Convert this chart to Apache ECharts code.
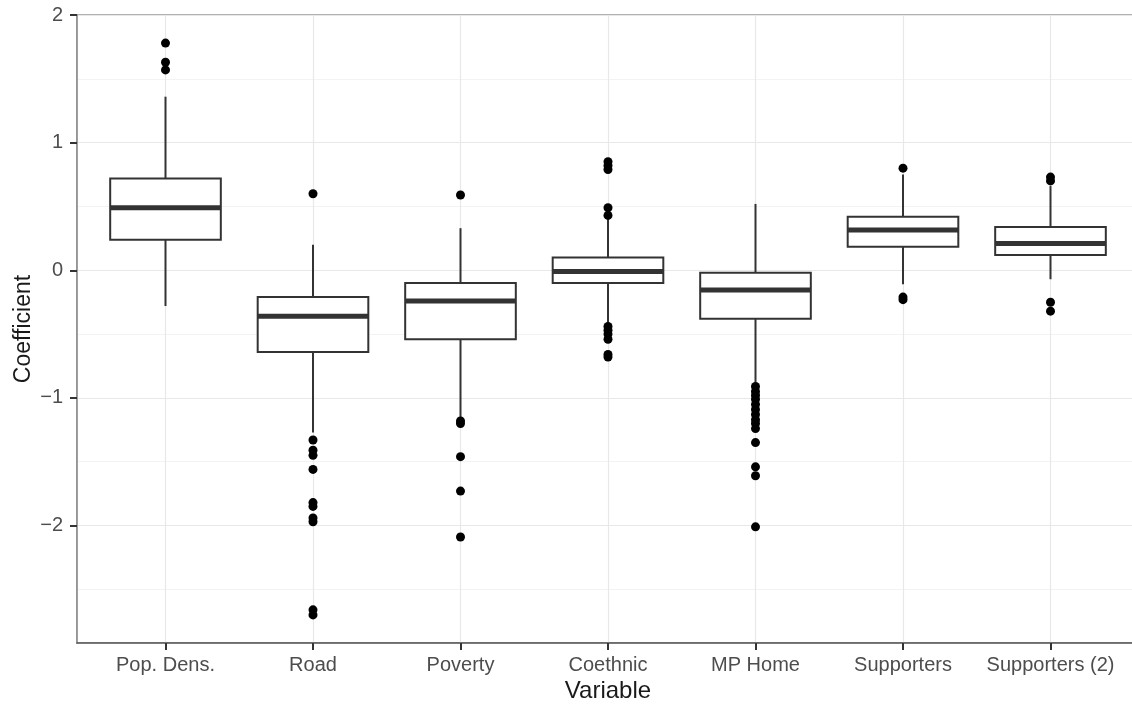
<!DOCTYPE html>
<html>
<head>
<meta charset="utf-8">
<script src="https://cdn.jsdelivr.net/npm/echarts@6/dist/echarts.min.js"></script>
<style>
html,body{margin:0;padding:0;background:#fff;}
#chart{width:1132px;height:705px;}
</style>
</head>
<body>
<div id="chart"></div>
<script>
// ---- data ----
const categories = ["Pop. Dens.", "Road", "Poverty", "Coethnic", "MP Home", "Supporters", "Supporters (2)"];
const whiskerLow  = [-0.28, -1.27, -1.15, -0.42, -0.88, -0.11, -0.07];
const q1          = [ 0.24, -0.64, -0.54, -0.10, -0.38,  0.185, 0.12];
const median      = [ 0.49, -0.36, -0.24, -0.01, -0.155, 0.315, 0.21];
const q3          = [ 0.72, -0.21, -0.10,  0.10, -0.02,  0.42,  0.34];
const whiskerHigh = [ 1.36,  0.20,  0.33,  0.40,  0.52,  0.75,  0.66];
const outPopDens    = [1.78, 1.63, 1.57];
const outRoad       = [0.60, -1.33, -1.41, -1.45, -1.56, -1.82, -1.85, -1.94, -1.97, -2.66, -2.70];
const outPoverty    = [0.59, -1.18, -1.20, -1.46, -1.73, -2.09];
const outCoethnic   = [0.85, 0.82, 0.79, 0.49, 0.43, -0.44, -0.47, -0.50, -0.54, -0.66, -0.68];
const outMPHome     = [-0.91, -0.95, -0.98, -1.01, -1.05, -1.09, -1.13, -1.17, -1.20, -1.24, -1.35, -1.54, -1.61, -2.01];
const outSupporters = [0.80, -0.21, -0.23];
const outSupporters2 = [0.73, 0.70, -0.25, -0.32];
const yTickLabels = ["−2", "−1", "0", "1", "2"];

const outliers = [outPopDens, outRoad, outPoverty, outCoethnic, outMPHome, outSupporters, outSupporters2];
const boxData = categories.map((c, i) => [i + 1, whiskerLow[i], q1[i], median[i], q3[i], whiskerHigh[i]]);
const pointData = [];
outliers.forEach((arr, i) => arr.forEach(v => pointData.push([i + 1, v])));

const lineCol = '#333333';

function renderBox(params, api) {
  const x = api.value(0);
  const pLo = api.coord([x, api.value(1)]);
  const pQ1 = api.coord([x, api.value(2)]);
  const pMed = api.coord([x, api.value(3)]);
  const pQ3 = api.coord([x, api.value(4)]);
  const pHi = api.coord([x, api.value(5)]);
  const w = api.size([0.75, 0])[0];
  const h = w / 2;
  return {
    type: 'group',
    children: [
      {type: 'line', shape: {x1: pHi[0], y1: pHi[1], x2: pQ3[0], y2: pQ3[1]}, style: {stroke: lineCol, lineWidth: 2}},
      {type: 'line', shape: {x1: pLo[0], y1: pLo[1], x2: pQ1[0], y2: pQ1[1]}, style: {stroke: lineCol, lineWidth: 2}},
      {type: 'rect', shape: {x: pQ3[0] - h, y: pQ3[1], width: w, height: pQ1[1] - pQ3[1]}, style: {fill: '#ffffff', stroke: lineCol, lineWidth: 2}},
      {type: 'line', shape: {x1: pMed[0] - h, y1: pMed[1], x2: pMed[0] + h, y2: pMed[1]}, style: {stroke: lineCol, lineWidth: 5}}
    ]
  };
}

const chart = echarts.init(document.getElementById('chart'), null, {renderer: 'canvas'});
chart.setOption({
  animation: false,
  backgroundColor: '#ffffff',
  grid: {left: 77, top: 15, width: 1062, bottom: 62, containLabel: false, outerBoundsMode: 'none',
         show: true, borderColor: '#999999', borderWidth: 1.5, backgroundColor: 'transparent'},
  xAxis: {
    type: 'value', min: 0.4, max: 7.6, splitNumber: 7,
    name: 'Variable', nameLocation: 'middle', nameGap: 36, nameMoveOverlap: false,
    nameTextStyle: {fontFamily: 'Liberation Sans', fontSize: 24, color: '#1a1a1a'},
    axisLine: {show: true, onZero: false, lineStyle: {color: '#555555', width: 1.5}},
    axisTick: {show: true, length: 7, lineStyle: {color: '#333333', width: 2}},
    axisLabel: {
      show: true, margin: 12, showMinLabel: false, showMaxLabel: false,
      fontFamily: 'Liberation Sans', fontSize: 20, color: '#4d4d4d',
      formatter: v => (Math.abs(v - Math.round(v)) < 1e-6 && categories[Math.round(v) - 1]) ? categories[Math.round(v) - 1] : ''
    },
    splitLine: {show: true, lineStyle: {color: '#e8e8e8', width: 1.2}}
  },
  yAxis: {
    type: 'value', min: -2.92, max: 2.0,
    name: 'Coefficient', nameLocation: 'middle', nameGap: 42, nameMoveOverlap: false,
    nameTextStyle: {fontFamily: 'Liberation Sans', fontSize: 23, color: '#1a1a1a'},
    axisLine: {show: true, onZero: false, lineStyle: {color: '#888888', width: 1.5}},
    axisTick: {show: true, length: 7, lineStyle: {color: '#333333', width: 2}},
    axisLabel: {
      show: true, margin: 14, showMinLabel: false,
      fontFamily: 'Liberation Sans', fontSize: 20, color: '#4d4d4d',
      formatter: v => {
        if (Math.abs(v - Math.round(v)) > 1e-6) return '';
        const idx = Math.round(v) + 2;
        return yTickLabels[idx] !== undefined ? yTickLabels[idx] : '';
      }
    },
    splitLine: {show: true, lineStyle: {color: '#e8e8e8', width: 1.2}},
    minorTick: {show: false, splitNumber: 2},
    minorSplitLine: {show: true, lineStyle: {color: '#f3f3f3', width: 1.2}}
  },
  series: [
    {
      type: 'custom',
      renderItem: renderBox,
      encode: {x: 0, y: [1, 2, 3, 4, 5]},
      data: boxData,
      z: 2
    },
    {
      type: 'scatter',
      data: pointData,
      symbol: 'circle',
      symbolSize: 9,
      itemStyle: {color: '#000000', opacity: 1},
      z: 3
    }
  ]
});
</script>
</body>
</html>
